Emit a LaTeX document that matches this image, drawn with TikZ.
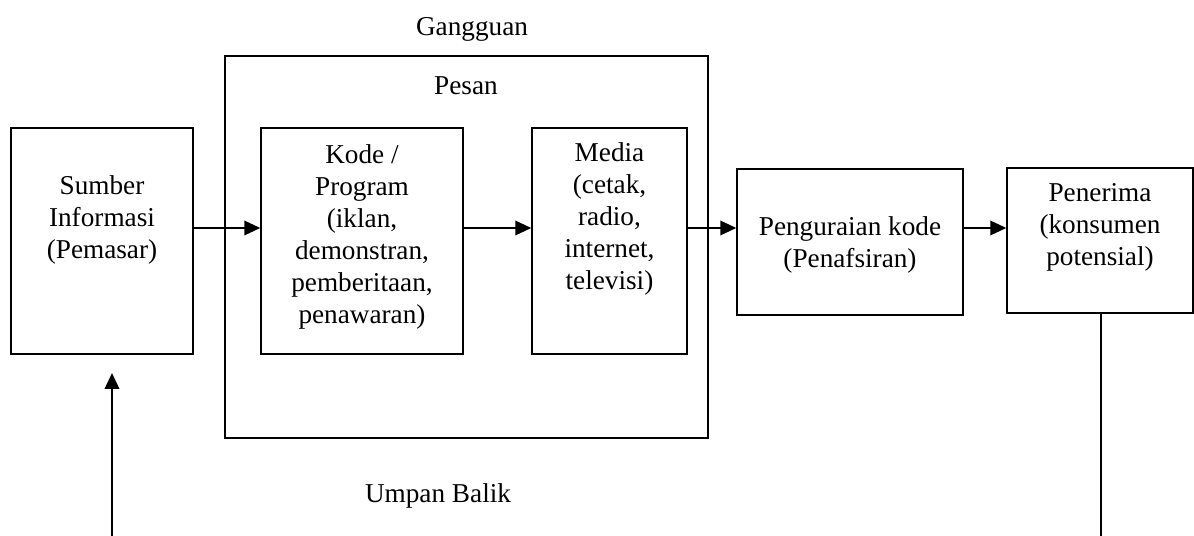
\documentclass[tikz,border=0pt]{standalone}
\usepackage{fontspec}
\setmainfont{Liberation Serif}
\usepackage{tikz}
\usetikzlibrary{arrows.meta}
\newcommand{\diafont}{\fontsize{15.5pt}{18.2pt}\selectfont}

\begin{document}
\begin{tikzpicture}[
    x=0.02cm, y=-0.02cm,
    box/.style={rectangle, draw=black, line width=0.85pt, inner sep=0pt},
    txt/.style={align=center, inner sep=0pt, font=\diafont},
    arr/.style={-{Triangle[length=3.2mm, width=2.9mm]}, line width=1.15pt},
    ln/.style={line width=1.15pt}
]
\useasboundingbox (0,0) rectangle (1194,536);

% Sumber
\node[box, minimum width=3.64cm, minimum height=4.52cm] (sumber) at (102,241) {};
\node[txt] (sumbertxt) at (102,220) {Sumber\\Informasi\\(Pemasar)};

% Pesan (gangguan)
\node[box, minimum width=9.66cm, minimum height=7.64cm] (pesan) at (466.5,247) {};
\node[txt] (gangguan) at (472,29) {Gangguan};
\node[txt] (pesantxt) at (466,86) {Pesan};

% Kode
\node[box, minimum width=4.04cm, minimum height=4.52cm] (kode) at (362,241) {};
\node[txt] (kodetxt) at (362,237) {Kode /\\Program\\(iklan,\\demonstran,\\pemberitaan,\\penawaran)};

% Media
\node[box, minimum width=3.10cm, minimum height=4.52cm] (media) at (609.5,241) {};
\node[txt] (mediatxt) at (609.5,219) {Media\\(cetak,\\radio,\\internet,\\televisi)};

% Penguraian
\node[box, minimum width=4.52cm, minimum height=2.92cm] (urai) at (850,242) {};
\node[txt] (uraitxt) at (850,245) {Penguraian kode\\(Penafsiran)};

% Penerima
\node[box, minimum width=3.72cm, minimum height=2.90cm] (penerima) at (1100,240.5) {};
\node[txt] (penerimatxt) at (1100,227) {Penerima\\(konsumen\\potensial)};

% Umpan balik
\node[txt] (umpan) at (438,496) {Umpan Balik};
\coordinate (row) at (0,228);
\coordinate (fbtip) at (112,373);
\coordinate (fbfoot) at (112,536);
\coordinate (fbend) at (1101,536);

% Arrows
\draw[arr] (sumber.east |- row) -- (kode.west |- row);
\draw[arr] (kode.east |- row) -- (media.west |- row);
\draw[arr] (media.east |- row) -- (urai.west |- row);
\draw[arr] (urai.east |- row) -- (penerima.west |- row);

\draw[ln] (penerima.south -| fbend) -- (fbend);
\draw[arr] (fbfoot) -- (fbtip);

\end{tikzpicture}
\end{document}
